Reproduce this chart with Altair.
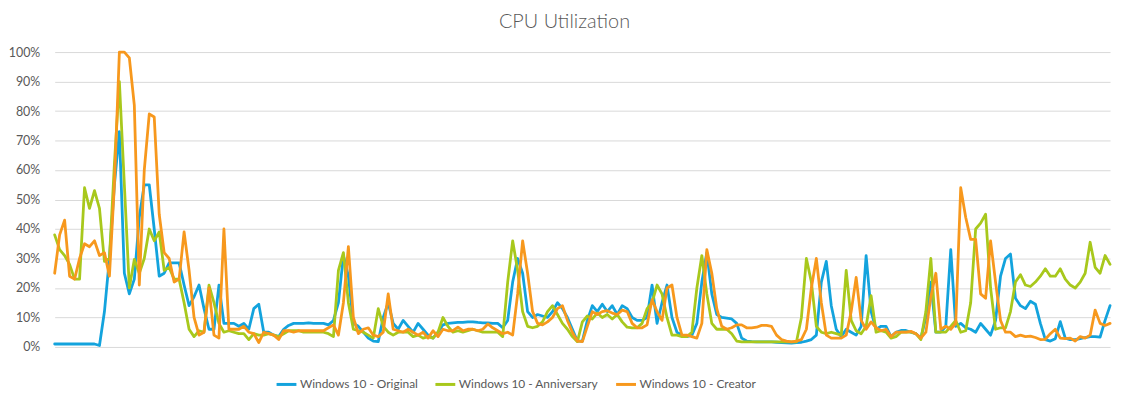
import altair as alt
import pandas as pd

series_names = ["Windows 10 - Original", "Windows 10 - Anniversary", "Windows 10 - Creator"]
series_colors = ["#13a3dd", "#a8c81c", "#f7981d"]

original = [
    1, 1, 1, 1, 1, 1, 1, 1, 1, 0.5, 12, 30, 55, 73, 25, 18, 23, 44, 55, 55,
    40, 24, 25, 28.5, 28.5, 28.5, 21, 14, 17, 21, 13, 6, 6, 21, 8, 8, 8, 7, 8, 6,
    13, 14.5, 5, 5, 4, 3.5, 6, 7.3, 8, 8, 8, 8.2, 8, 8, 8, 7.5, 9, 15, 31, 24,
    8, 7, 5, 3, 2, 1.8, 10, 15, 8, 6, 9, 7, 5, 8, 6, 4, 3, 5, 7.5, 8,
    8.2, 8.3, 8.3, 8.5, 8.5, 8.3, 8.2, 8.2, 8, 8, 6.5, 9, 22, 30, 25, 12, 10, 11, 10.5, 10,
    12, 15, 13, 10, 6, 2, 2, 9, 14, 12, 14.5, 12, 14, 11, 14, 13, 10, 9, 9, 10,
    21, 8, 15, 21, 10, 5, 4, 3.5, 4, 8, 22, 32, 18, 11, 10, 9.8, 9.5, 8, 3, 2,
    1.8, 1.7, 1.7, 1.7, 1.7, 1.6, 1.5, 1.4, 1.3, 1.5, 1.6, 2, 2.5, 4, 22, 29, 14, 6, 3.5, 6,
    5, 4, 7, 31, 12, 6, 7, 7, 3.5, 5, 5.6, 5.6, 5, 4.5, 3, 10, 22, 5, 5, 7,
    33, 7, 8, 6.5, 6, 5, 8, 6, 4, 9, 24, 30, 31.5, 16.5, 14, 13, 15.5, 14.5, 8, 2.5,
    2, 2.8, 8.6, 3, 2.5, 2.5, 2.8, 3.2, 3.5, 3.5, 3.3, 9, 14,
]

anniversary = [
    38, 33, 31, 28, 23, 23, 54, 47, 53, 47, 29, 30, 62, 90, 55, 20, 29.7, 25, 30, 40,
    36, 39, 26, 27, 23, 23, 15, 6, 3.5, 5.5, 5, 21, 15, 8, 5, 5.5, 5, 4.5, 4.5, 2.5,
    4.5, 4, 4, 4.5, 4, 3.5, 4.5, 5.5, 5.5, 5.5, 5, 5, 5, 5, 5, 4.5, 3.5, 26, 32, 15,
    6, 5.5, 5, 4, 3, 13, 7, 5, 4, 5, 5, 5, 3.5, 4, 3, 3.5, 3, 5, 10, 7,
    5, 5.5, 5, 5.5, 6, 5.5, 5, 5, 5, 5, 3.5, 22, 36, 26, 12, 7, 6.5, 7, 8.5, 12,
    14, 11, 8, 6, 3.5, 1.8, 8.5, 10.5, 9.5, 11.5, 10, 11, 9.5, 11, 8.5, 6.7, 6.5, 6.5, 8, 13,
    15, 21, 18, 10, 4, 4, 3.5, 3.5, 5, 20, 31, 18, 8, 6, 6, 6, 4.5, 2, 1.7, 1.7,
    1.7, 1.7, 1.7, 1.7, 1.7, 1.7, 1.7, 1.7, 1.7, 1.7, 10, 30, 22, 7, 5, 4.5, 5, 4.5, 4, 26,
    9, 5.5, 4.5, 7, 17.4, 5, 5.5, 5, 3, 3.5, 5, 5, 5, 4.5, 2.5, 12, 30, 5, 5, 5,
    7, 9, 5, 5.5, 15, 40, 42, 45, 20, 6, 6.5, 6.5, 12, 22, 24.5, 21, 20.5, 22, 24, 26.5,
    24, 24, 26.5, 23, 21, 20, 22, 25, 35.5, 27, 25, 31, 28,
]

creator = [
    25, 38, 43, 24, 23, 30, 35, 34, 36, 31, 32, 24, 55, 100, 100, 98, 82, 21, 60, 79,
    78, 45, 32, 30, 22, 23, 39, 26, 10, 4, 5, 20, 4, 3, 40, 6, 6, 6, 7, 5,
    4.5, 1.5, 5, 4.5, 4, 2.5, 5.5, 5.5, 5, 5.5, 5.5, 5.5, 5.5, 5.5, 5.5, 6.5, 7.5, 4, 15, 34,
    10, 4.5, 6, 6.5, 4, 3.5, 5, 18, 6, 5.5, 5, 6, 5, 4, 5, 3, 5.5, 3.5, 6, 5.5,
    5.5, 6.7, 5.5, 6, 6, 5.5, 6, 7.8, 6.5, 5.5, 4.5, 5, 4, 18, 36, 25, 12, 8, 7.5, 8.5,
    10, 13, 14, 9, 5, 2, 1.8, 7, 12, 11, 12, 12.3, 11.5, 11, 12.5, 12, 8, 6.5, 6.5, 7.5,
    16, 12, 9, 20, 21, 10, 4, 4, 3.5, 3, 8, 33, 25, 13, 7, 6, 6.5, 7.5, 7.5, 6.5,
    6.5, 6.7, 7.3, 7.3, 7, 4, 2.5, 2, 1.7, 2, 2.5, 6, 20, 30, 15, 4, 3, 3, 3, 4,
    12, 23.6, 9, 6, 8.5, 6.5, 5.5, 6, 3.5, 5, 5, 5, 5.3, 4.5, 3, 5, 17, 25, 6, 7,
    6, 8, 54, 44, 36.5, 36.5, 18, 16.5, 36, 22, 9, 5, 5, 3.5, 4, 3.5, 3.7, 3.2, 2.5, 2.6,
    4.5, 6, 3, 2.8, 3, 2, 3.5, 3, 4, 12.5, 8, 7.3, 8,
]

y_ticks = [0, 10, 20, 30, 40, 50, 60, 70, 80, 90, 100]

rows = []
for name, vals in zip(series_names, [original, anniversary, creator]):
    for i, v in enumerate(vals):
        rows.append({"idx": i, "value": v, "series": name})
df = pd.DataFrame(rows)
n = max(len(original), len(anniversary), len(creator))

chart = (
    alt.Chart(df)
    .mark_line(strokeWidth=2.8, strokeJoin="round", strokeCap="round")
    .encode(
        x=alt.X("idx:Q", axis=None,
                scale=alt.Scale(domain=[0, n - 1], nice=False, zero=False)),
        y=alt.Y("value:Q",
                scale=alt.Scale(domain=[0, 100], nice=False),
                axis=alt.Axis(values=y_ticks, title=None, domain=False, ticks=False,
                              labelExpr="datum.value + '%'", labelPadding=15,
                              labelFont="Lato", labelFontSize=12.5, labelColor="#595959",
                              gridColor="#d9d9d9", gridWidth=1)),
        color=alt.Color("series:N",
                        scale=alt.Scale(domain=series_names, range=series_colors),
                        legend=alt.Legend(orient="none", legendX=222, legendY=323,
                                          direction="horizontal", title=None,
                                          symbolType="stroke", symbolStrokeWidth=3,
                                          symbolSize=400, labelFont="Lato",
                                          labelFontSize=12, labelColor="#595959",
                                          columnPadding=11, labelOffset=2)),
        order="idx:Q",
    )
    .properties(
        width=1063,
        height=297,
        autosize=alt.AutoSizeParams(type="none"),
        padding={"left": 47, "top": 43, "right": 9, "bottom": 48},
        title=alt.TitleParams("CPU Utilization", anchor="middle", fontSize=20,
                              font="Lato", fontWeight=300, color="#595959",
                              offset=14, dx=-18),
    )
    .configure_view(stroke=None)
)

chart.save("out.html", embed_options={"renderer": "svg", "actions": False})
